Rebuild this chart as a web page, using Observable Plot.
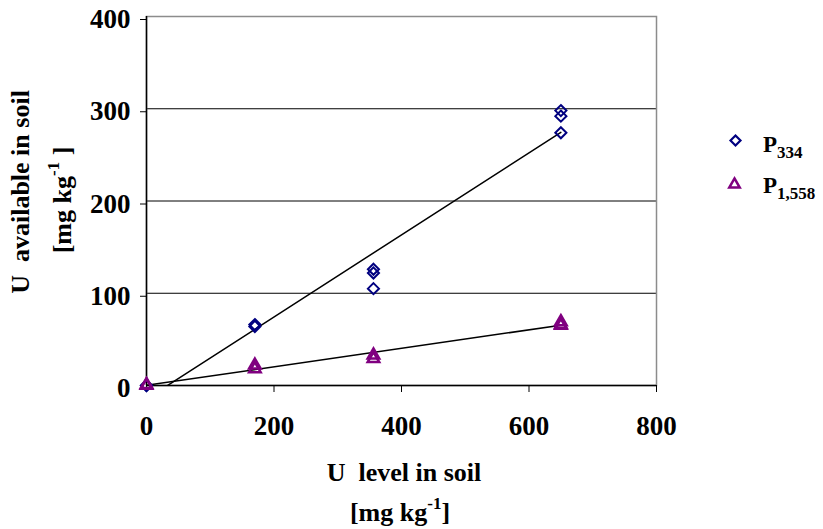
<!DOCTYPE html>
<html>
<head>
<meta charset="utf-8">
<script src="https://cdn.jsdelivr.net/npm/d3@7"></script>
<script src="https://cdn.jsdelivr.net/npm/@observablehq/plot@0.6"></script>
<style>
  html, body { margin: 0; padding: 0; background: #fff; }
  #chart svg { display: block; }
</style>
</head>
<body>
<div id="chart"></div>
<script>
// U level in soil [mg/kg] and U available in soil [mg/kg], per phosphate treatment
const levelP334 = [0, 0, 170, 170, 356, 356, 356, 650, 650, 650];
const availP334 = [0, 0, 64, 66, 126, 122, 105, 298, 292, 274];
const levelP1558 = [0, 0, 170, 170, 356, 356, 650, 650, 650];
const availP1558 = [1, 0, 22, 18, 33, 29, 69, 66, 65];

const xTicks = [0, 200, 400, 600, 800];
const yTicks = [0, 100, 200, 300, 400];
const gridTicks = [100, 200, 300];

const colorP334 = "#000080";
const colorP1558 = "#800080";

const rowsP334 = levelP334.map((level, i) => ({level, avail: availP334[i]}));
const rowsP1558 = levelP1558.map((level, i) => ({level, avail: availP1558[i]}));

const serif = "'Liberation Serif', 'Times New Roman', Tinos, serif";

const chart = Plot.plot({
  width: 823,
  height: 529,
  marginLeft: 146,
  marginRight: 167,
  marginTop: 16,
  marginBottom: 144,
  style: {fontFamily: serif, fontWeight: "bold", fontSize: "27px", background: "#fff", overflow: "visible", color: "#000"},
  x: {domain: [0, 800]},
  y: {domain: [0, 400]},
  marks: [
    Plot.gridY({ticks: gridTicks, stroke: "#000", strokeOpacity: 1, strokeWidth: 1}),
    Plot.frame({stroke: "#8c8c8c", strokeWidth: 1.5}),
    Plot.ruleX([0], {stroke: "#000", strokeWidth: 1.5}),
    Plot.ruleY([0], {stroke: "#000", strokeWidth: 1.5}),
    Plot.axisY({ticks: yTicks, tickSize: 6, tickPadding: 10, label: null, dy: 3, fontSize: 27}),
    Plot.axisX({ticks: xTicks, tickSize: 7, tickPadding: 23, label: null, fontSize: 27}),
    Plot.linearRegressionY(rowsP334, {x: "level", y: "avail", stroke: "#000", strokeWidth: 1.5, ci: 0, clip: true}),
    Plot.linearRegressionY(rowsP1558, {x: "level", y: "avail", stroke: "#000", strokeWidth: 1.5, ci: 0, clip: true}),
    Plot.dot(rowsP334, {x: "level", y: "avail", symbol: "diamond2", r: 5, stroke: colorP334, strokeWidth: 2}),
    Plot.dot(rowsP1558, {x: "level", y: "avail", symbol: "triangle2", r: 5.5, stroke: colorP1558, strokeWidth: 2.5}),
    // legend swatches, placed to the right of the frame
    Plot.dot([0], {frameAnchor: "top-right", dx: 79, dy: 124, symbol: "diamond2", r: 4.5, stroke: colorP334, strokeWidth: 2.2}),
    Plot.dot([0], {frameAnchor: "top-right", dx: 78, dy: 168, symbol: "triangle2", r: 5, stroke: colorP1558, strokeWidth: 2.5})
  ]
});

document.getElementById("chart").appendChild(chart);

// Text with sub/superscripts, drawn as tspans
const svg = d3.select(chart);
function richText({x, y, rotate = 0, anchor = "middle", size = 24}, parts) {
  const t = svg.append("text")
    .attr("transform", `translate(${x},${y}) rotate(${rotate})`)
    .attr("text-anchor", anchor)
    .attr("font-family", serif)
    .attr("font-weight", "bold")
    .attr("font-size", size)
    .attr("fill", "#000");
  let shift = 0;
  for (const p of parts) {
    const s = typeof p === "string" ? {text: p, dy: 0} : p;
    const ts = t.append("tspan").text(s.text);
    const target = s.dy || 0;
    if (target !== shift) ts.attr("dy", target - shift);
    shift = target;
    if (s.size) ts.attr("font-size", s.size);
  }
  return t;
}

// y-axis title
richText({x: 29, y: 192, rotate: -90, size: 26}, ["U  available in soil"]);
richText({x: 71, y: 200, rotate: -90, size: 26}, ["[mg kg", {text: "-1", dy: -12, size: 17}, {text: " ]", dy: 0}]);

// x-axis title
richText({x: 404, y: 481, size: 26}, ["U  level in soil"]);
richText({x: 400, y: 521, size: 26}, ["[mg kg", {text: "-1", dy: -12, size: 17}, {text: "]", dy: 0}]);

// legend labels
richText({x: 763, y: 152, anchor: "start", size: 23}, ["P", {text: "334", dy: 6, size: 17}]);
richText({x: 763, y: 193, anchor: "start", size: 23}, ["P", {text: "1,558", dy: 6, size: 17}]);
</script>
</body>
</html>
